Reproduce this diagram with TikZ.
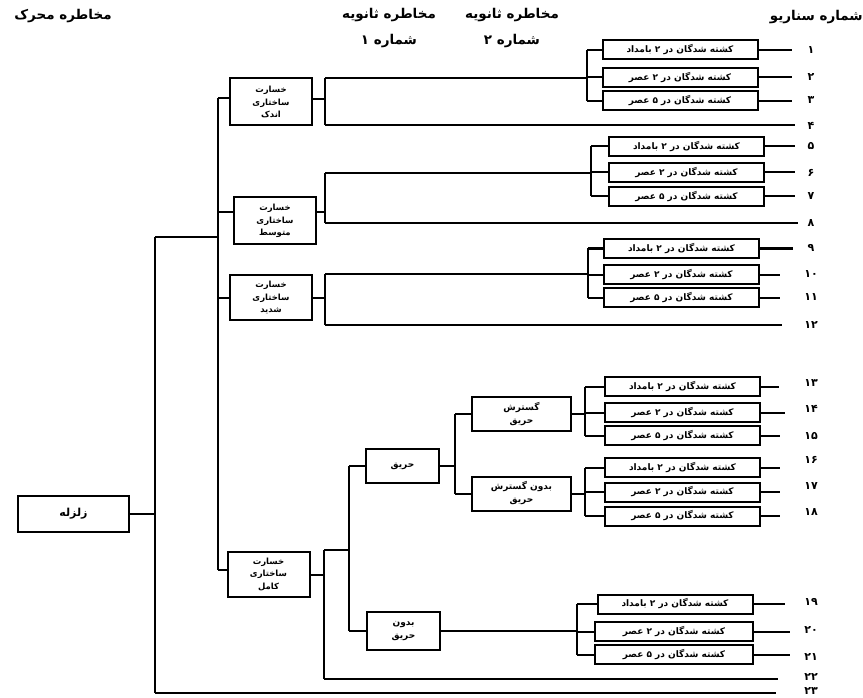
\documentclass[tikz,border=0pt]{standalone}
\usepackage{fontspec}
\newfontfamily\arfont[Script=Arabic]{DejaVu Sans}
\TeXXeTstate=1
\newcommand\RL[1]{\beginR #1\endR}
\newcommand\SA{\RL{کشته شدگان در ۲ بامداد}}
\newcommand\SB{\RL{کشته شدگان در ۲ عصر}}
\newcommand\SC{\RL{کشته شدگان در ۵ عصر}}
\begin{document}
\begin{tikzpicture}[x=1pt,y=-1pt]
\tikzset{
 ln/.style={line width=2pt},
 dbox/.style={draw, line width=2pt, minimum width=82pt, minimum height=47pt, inner sep=0pt, align=center, font=\arfont\bfseries\fontsize{8.5}{12.5}\selectfont},
 fbox/.style={draw, line width=2pt, minimum width=73pt, minimum height=34pt, inner sep=0pt, align=center, font=\arfont\bfseries\fontsize{9}{13}\selectfont},
 sbox/.style={draw, line width=2pt, minimum width=155pt, minimum height=19pt, inner sep=0pt, font=\arfont\bfseries\fontsize{9}{10}\selectfont},
 num/.style={font=\arfont\bfseries\fontsize{11}{12}\selectfont, inner sep=0pt},
 hdr/.style={font=\arfont\bfseries\fontsize{13.5}{26}\selectfont, inner sep=0pt, align=center}
}
\useasboundingbox (0,0) rectangle (863,698);
\fill[white] (0,0) rectangle (863,698);
% headers
\node[hdr] (h0) at (63,16) {\RL{مخاطره محرک}};
\node[hdr] (h1) at (389,28) {\RL{مخاطره ثانویه}\\\RL{شماره ۱}};
\node[hdr] (h2) at (512,28) {\RL{مخاطره ثانویه}\\\RL{شماره ۲}};
\node[hdr,anchor=east] (h3) at (863,17) {\RL{شماره سناریو}};
% root
\node[draw,line width=2pt,minimum width=111pt,minimum height=36pt,inner sep=0pt,font=\arfont\bfseries\fontsize{11}{13}\selectfont] (r) at (73.5,514) {\RL{زلزله}};
% damage boxes
\node[dbox] (d1) at (271,102) {\RL{خسارت}\\\RL{ساختاری}\\\RL{اندک}};
\node[dbox] (d2) at (275,221) {\RL{خسارت}\\\RL{ساختاری}\\\RL{متوسط}};
\node[dbox,minimum height=45pt] (d3) at (271,297.5) {\RL{خسارت}\\\RL{ساختاری}\\\RL{شدید}};
\node[dbox,minimum height=45pt] (d4) at (268.5,574.5) {\RL{خسارت}\\\RL{ساختاری}\\\RL{کامل}};
% fire boxes
\node[fbox] (f1) at (402.5,466) {\RL{حریق}};
\node[fbox,minimum height=38pt] (f2) at (403.5,631) {\RL{بدون}\\\RL{حریق}};
\node[fbox,minimum width=99pt] (g1) at (521.5,414) {\RL{گسترش}\\\RL{حریق}};
\node[fbox,minimum width=99pt] (g2) at (521.5,493.5) {\RL{بدون گسترش}\\\RL{حریق}};
% scenario boxes
\node[sbox] (s1) at (680,50) {\SA};
\node[sbox] (s2) at (680,77.5) {\SB};
\node[sbox] (s3) at (680,101) {\SC};
\node[sbox] (s5) at (686.5,146.5) {\SA};
\node[sbox] (s6) at (686.5,172.5) {\SB};
\node[sbox] (s7) at (686.5,196.5) {\SC};
\node[sbox] (s9) at (681.5,248.5) {\SA};
\node[sbox] (s10) at (681.5,274.5) {\SB};
\node[sbox] (s11) at (681.5,297.5) {\SC};
\node[sbox] (s13) at (682.5,386.5) {\SA};
\node[sbox] (s14) at (682.5,412.5) {\SB};
\node[sbox] (s15) at (682.5,435.5) {\SC};
\node[sbox] (s16) at (682.5,467.5) {\SA};
\node[sbox] (s17) at (682.5,492) {\SB};
\node[sbox] (s18) at (682.5,516) {\SC};
\node[sbox] (s19) at (675,604) {\SA};
\node[sbox,minimum width=158pt] (s20) at (674,631.5) {\SB};
\node[sbox,minimum width=158pt] (s21) at (674,654.5) {\SC};
% trunks
\coordinate (T0t) at (155,237);
\coordinate (T0b) at (155,693);
\draw[ln] (T0t) -- (T0b);
\draw[ln] (r.east) -- (r.east -| T0t);
\coordinate (T1t) at (218,98);
\coordinate (T1b) at (218,570);
\draw[ln] (T1t) -- (T1b);
\draw[ln] (T0t) -- (T0t -| T1t);
\draw[ln] (T1t) -- (T1t -| d1.west);
\draw[ln] ([yshift=9pt]d2.west -| T1t) -- ([yshift=9pt]d2.west);
\draw[ln] (d3.west -| T1t) -- (d3.west);
\draw[ln] (T1b) -- (T1b -| d4.west);
% group 1
\coordinate (U1t) at (325,78);
\coordinate (U1b) at (325,125);
\coordinate (B1) at (587,78);
\draw[ln] (U1t) -- (U1b);
\draw[ln] ([yshift=3pt]d1.east) -- ([yshift=3pt]d1.east -| U1t);
\draw[ln] (U1t) -- (B1);
\draw[ln] (s1.west -| B1) -- (s3.west -| B1);
\foreach \s in {s1,s2,s3} \draw[ln] (\s.west -| B1) -- (\s.west);
% group 2
\coordinate (U2t) at (325,173);
\coordinate (U2b) at (325,223);
\coordinate (B2) at (591,173);
\draw[ln] (U2t) -- (U2b);
\draw[ln] ([yshift=9pt]d2.east) -- ([yshift=9pt]d2.east -| U2t);
\draw[ln] (U2t) -- (B2);
\draw[ln] (s5.west -| B2) -- (s7.west -| B2);
\foreach \s in {s5,s6,s7} \draw[ln] (\s.west -| B2) -- (\s.west);
% group 3
\coordinate (U3t) at (325,274);
\coordinate (U3b) at (325,325);
\coordinate (B3) at (588,274);
\draw[ln] (U3t) -- (U3b);
\draw[ln] (d3.east) -- (d3.east -| U3t);
\draw[ln] (U3t) -- (B3);
\draw[ln] (s9.west -| B3) -- (s11.west -| B3);
\foreach \s in {s9,s10,s11} \draw[ln] (\s.west -| B3) -- (\s.west);
% group 4
\coordinate (U4t) at (324,550);
\coordinate (U4b) at (324,679);
\coordinate (V4) at (349,550);
\draw[ln] (U4t) -- (U4b);
\draw[ln] (d4.east) -- (d4.east -| U4t);
\draw[ln] (U4t) -- (V4);
\draw[ln] (f1.west -| V4) -- (f2.west -| V4);
\draw[ln] (f1.west -| V4) -- (f1.west);
\draw[ln] (f2.west -| V4) -- (f2.west);
\coordinate (W) at (455,466);
\draw[ln] (f1.east) -- (W);
\draw[ln] (g1.west -| W) -- (g2.west -| W);
\draw[ln] (g1.west -| W) -- (g1.west);
\draw[ln] (g2.west -| W) -- (g2.west);
\coordinate (B4) at (585,412);
\draw[ln] (g1.east) -- (g1.east -| B4);
\draw[ln] (s13.west -| B4) -- (s15.west -| B4);
\foreach \s in {s13,s14,s15} \draw[ln] (\s.west -| B4) -- (\s.west);
\coordinate (B5) at (585,493);
\draw[ln] (g2.east) -- (g2.east -| B5);
\draw[ln] (s16.west -| B5) -- (s18.west -| B5);
\foreach \s in {s16,s17,s18} \draw[ln] (\s.west -| B5) -- (\s.west);
\coordinate (B6) at (577,631);
\draw[ln] (f2.east) -- (f2.east -| B6);
\draw[ln] (s19.west -| B6) -- (s21.west -| B6);
\foreach \s in {s19,s20,s21} \draw[ln] (\s.west -| B6) -- (\s.west);
% scenario ends and numbers
\foreach \s/\e in {s1/792,s2/792,s3/792,s5/795,s6/795,s7/795,s9/793,s10/780,s11/780,s13/779,s14/785,s15/780,s16/780,s17/780,s18/780,s19/785,s20/790,s21/790}
  \draw[ln] (\s.east) -- (\s.east -| {(\e,0)});
\coordinate (e4) at (795,125);
\coordinate (e8) at (798,223);
\coordinate (e12) at (782,325);
\coordinate (e22) at (778,679);
\coordinate (e23) at (776,693);
\draw[ln] (U1b) -- (e4);
\draw[ln] (U2b) -- (e8);
\draw[ln] (U3b) -- (e12);
\draw[ln] (U4b) -- (e22);
\draw[ln] (T0b) -- (e23);
\foreach \t/\y in {۱/50,۲/77,۳/100,۴/126,۵/146,۶/173,۷/196,۸/223,۹/248,۱۰/274,۱۱/297,۱۲/325,۱۳/383,۱۴/409,۱۵/436,۱۶/460,۱۷/486,۱۸/512,۱۹/602,۲۰/630,۲۱/657,۲۲/677,۲۳/691}
  \node[num] (n\y) at (811,\y) {\t};
\end{tikzpicture}
\end{document}
